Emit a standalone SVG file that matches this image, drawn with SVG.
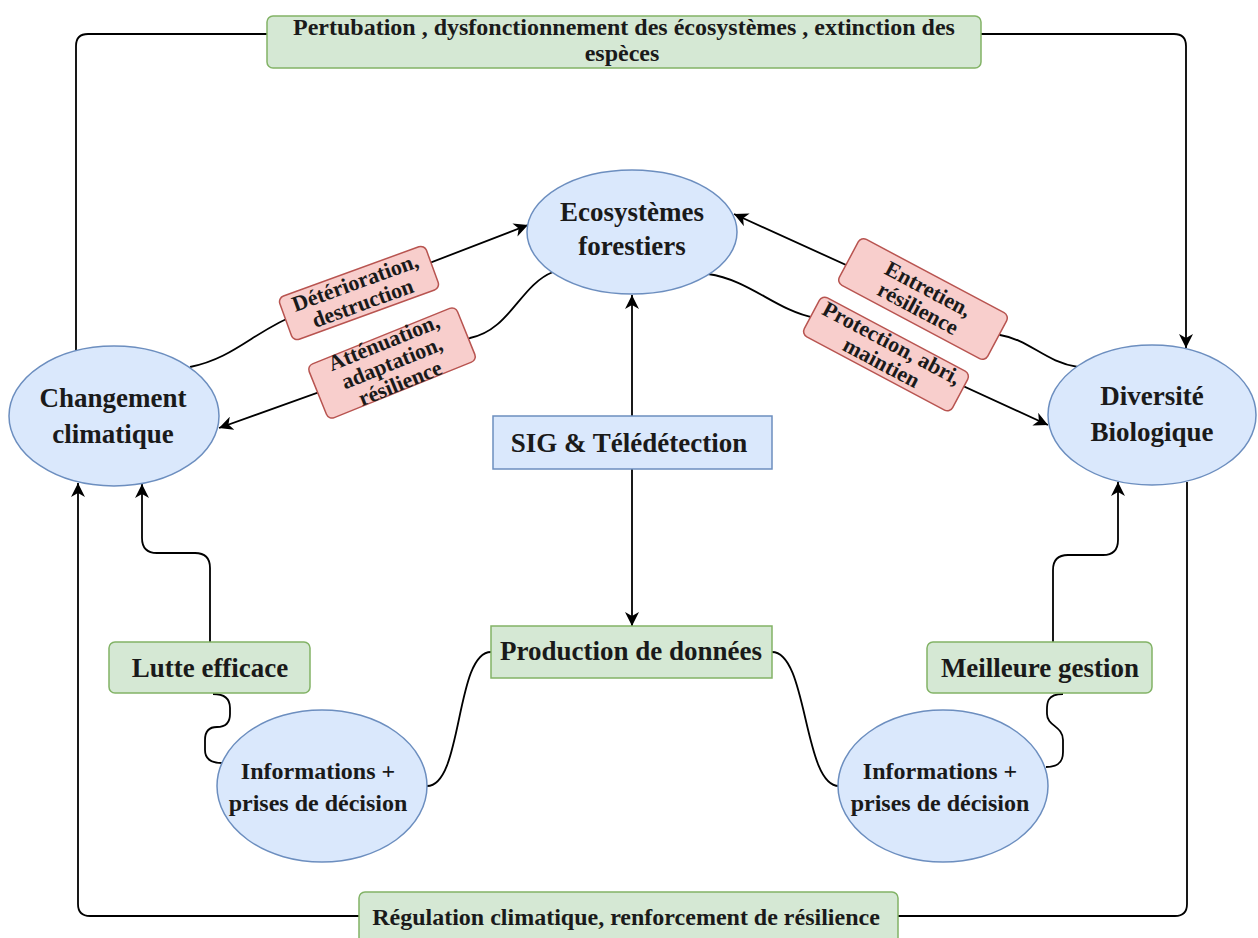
<svg xmlns="http://www.w3.org/2000/svg" width="1258" height="938" viewBox="0 0 1258 938">
<style>
.t{font-family:"Liberation Serif","Times New Roman",serif;font-weight:bold;fill:#1a1a1a;text-anchor:middle}
.big{font-size:27px}
.mid{font-size:24px}
.sm{font-size:22px}
.band{font-size:24px}
.blue{fill:#dae8fc;stroke:#6c8ebf;stroke-width:1.5}
.green{fill:#d5e8d4;stroke:#82b366;stroke-width:1.5}
.red{fill:#f8cecc;stroke:#b85450;stroke-width:1.5}
.c{fill:none;stroke:#000;stroke-width:1.8}
.a{marker-end:url(#arr)}
</style>
<defs>
<marker id="arr" markerUnits="userSpaceOnUse" markerWidth="16" markerHeight="14" refX="14" refY="7" orient="auto">
<path d="M0,0 L14,7 L0,14 L4,7 Z" fill="#000"/>
</marker>
</defs>
<rect width="1258" height="938" fill="#fff"/>
<g id="connectors">
<path class="c" d="M76,351 L76,46 Q76,34 88,34 L267,34"/>
<path class="c a" d="M981,34 L1174,34 Q1186,34 1186,46 L1186,348"/>
<path class="c" d="M1187,482 L1187,904 Q1187,916 1175,916 L898,916"/>
<path class="c a" d="M359,916 L90,916 Q78,916 78,904 L78,483"/>
<path class="c a" d="M210,642 L210,568 Q210,553 195,553 L157,553 Q142,553 142,538 L142,484"/>
<path class="c a" d="M1053,642 L1053,570 Q1053,555 1068,555 L1103,555 Q1118,555 1118,540 L1118,482"/>
<path class="c a" d="M632,416 L632,295"/>
<path class="c a" d="M632,469 L632,626"/>
<path class="c" d="M491,652 C455,652 463,786 427,786"/>
<path class="c" d="M772,652 C808,652 803,786 839,786"/>
<path class="c" d="M213,694 Q230,694 230,708 L230,714 Q230,727 217,727 Q205,727 205,740 L205,750 Q205,763 222,763"/>
<path class="c" d="M1063,694 C1045,694 1047,705 1047,714 C1047,726 1063,726 1063,740 L1063,752 C1063,764 1056,767 1046,767"/>
<path class="c a" d="M190,367 C235,358 255,330 300,313 L528,225"/>
<path class="c a" d="M553,272 C520,285 510,330 470,338 L219,428"/>
<path class="c a" d="M1078,367 C1045,362 1030,340 1000,335 L734,214"/>
<path class="c a" d="M708,274 C750,280 775,310 815,318 L1048,425"/>
</g>
<g id="top-box">
<rect class="green" x="267" y="16" width="714" height="52" rx="6"/>
<text class="t band" x="624" y="35">Pertubation , dysfonctionnement des écosystèmes , extinction des</text>
<text class="t band" x="622" y="61">espèces</text>
</g>
<g id="bottom-box">
<rect class="green" x="359" y="892" width="539" height="54" rx="6"/>
<text class="t band" x="626" y="925">Régulation climatique, renforcement de résilience</text>
</g>
<g id="ecosystemes">
<ellipse class="blue" cx="632" cy="232" rx="105" ry="62"/>
<text class="t big" x="632" y="221">Ecosystèmes</text>
<text class="t big" x="632" y="255">forestiers</text>
</g>
<g id="changement">
<ellipse class="blue" cx="114" cy="416" rx="105" ry="70"/>
<text class="t big" x="113" y="407">Changement</text>
<text class="t big" x="113" y="443">climatique</text>
</g>
<g id="diversite">
<ellipse class="blue" cx="1152" cy="415" rx="104" ry="70"/>
<text class="t big" x="1152" y="405">Diversité</text>
<text class="t big" x="1152" y="441">Biologique</text>
</g>
<g id="sig">
<rect class="blue" x="493" y="416" width="279" height="53"/>
<text class="t big" x="629" y="452">SIG &amp; Télédétection</text>
</g>
<g id="production">
<rect class="green" x="491" y="626" width="281" height="52"/>
<text class="t big" x="631" y="660">Production de données</text>
</g>
<g id="lutte">
<rect class="green" x="109" y="642" width="201" height="51" rx="6"/>
<text class="t big" x="210" y="677">Lutte efficace</text>
</g>
<g id="meilleure">
<rect class="green" x="927" y="642" width="225" height="51" rx="6"/>
<text class="t big" x="1040" y="677">Meilleure gestion</text>
</g>
<g id="info-left">
<ellipse class="blue" cx="322" cy="786" rx="105" ry="76"/>
<text class="t mid" x="318" y="779">Informations +</text>
<text class="t mid" x="318" y="811">prises de décision</text>
</g>
<g id="info-right">
<ellipse class="blue" cx="943" cy="786" rx="105" ry="76"/>
<text class="t mid" x="940" y="779">Informations +</text>
<text class="t mid" x="940" y="811">prises de décision</text>
</g>
<g id="label-deterioration" transform="translate(359,293) rotate(-20)">
<rect class="red" x="-78" y="-23" width="156" height="46" rx="6"/>
<text class="t sm" x="0" y="-4">Détérioration,</text>
<text class="t sm" x="0" y="18">destruction</text>
</g>
<g id="label-attenuation" transform="translate(392,363) rotate(-22)">
<rect class="red" x="-80" y="-29" width="160" height="58" rx="6"/>
<text class="t sm" x="0" y="-15">Atténuation,</text>
<text class="t sm" x="0" y="7">adaptation,</text>
<text class="t sm" x="0" y="29">résilience</text>
</g>
<g id="label-entretien" transform="translate(923,299) rotate(28)">
<rect class="red" x="-84" y="-26" width="168" height="52" rx="6"/>
<text class="t sm" x="0" y="-4">Entretien,</text>
<text class="t sm" x="0" y="18">résilience</text>
</g>
<g id="label-protection" transform="translate(886,354) rotate(28)">
<rect class="red" x="-84" y="-22" width="168" height="44" rx="6"/>
<text class="t sm" x="0" y="-5">Protection, abri,</text>
<text class="t sm" x="0" y="17">maintien</text>
</g>
</svg>
